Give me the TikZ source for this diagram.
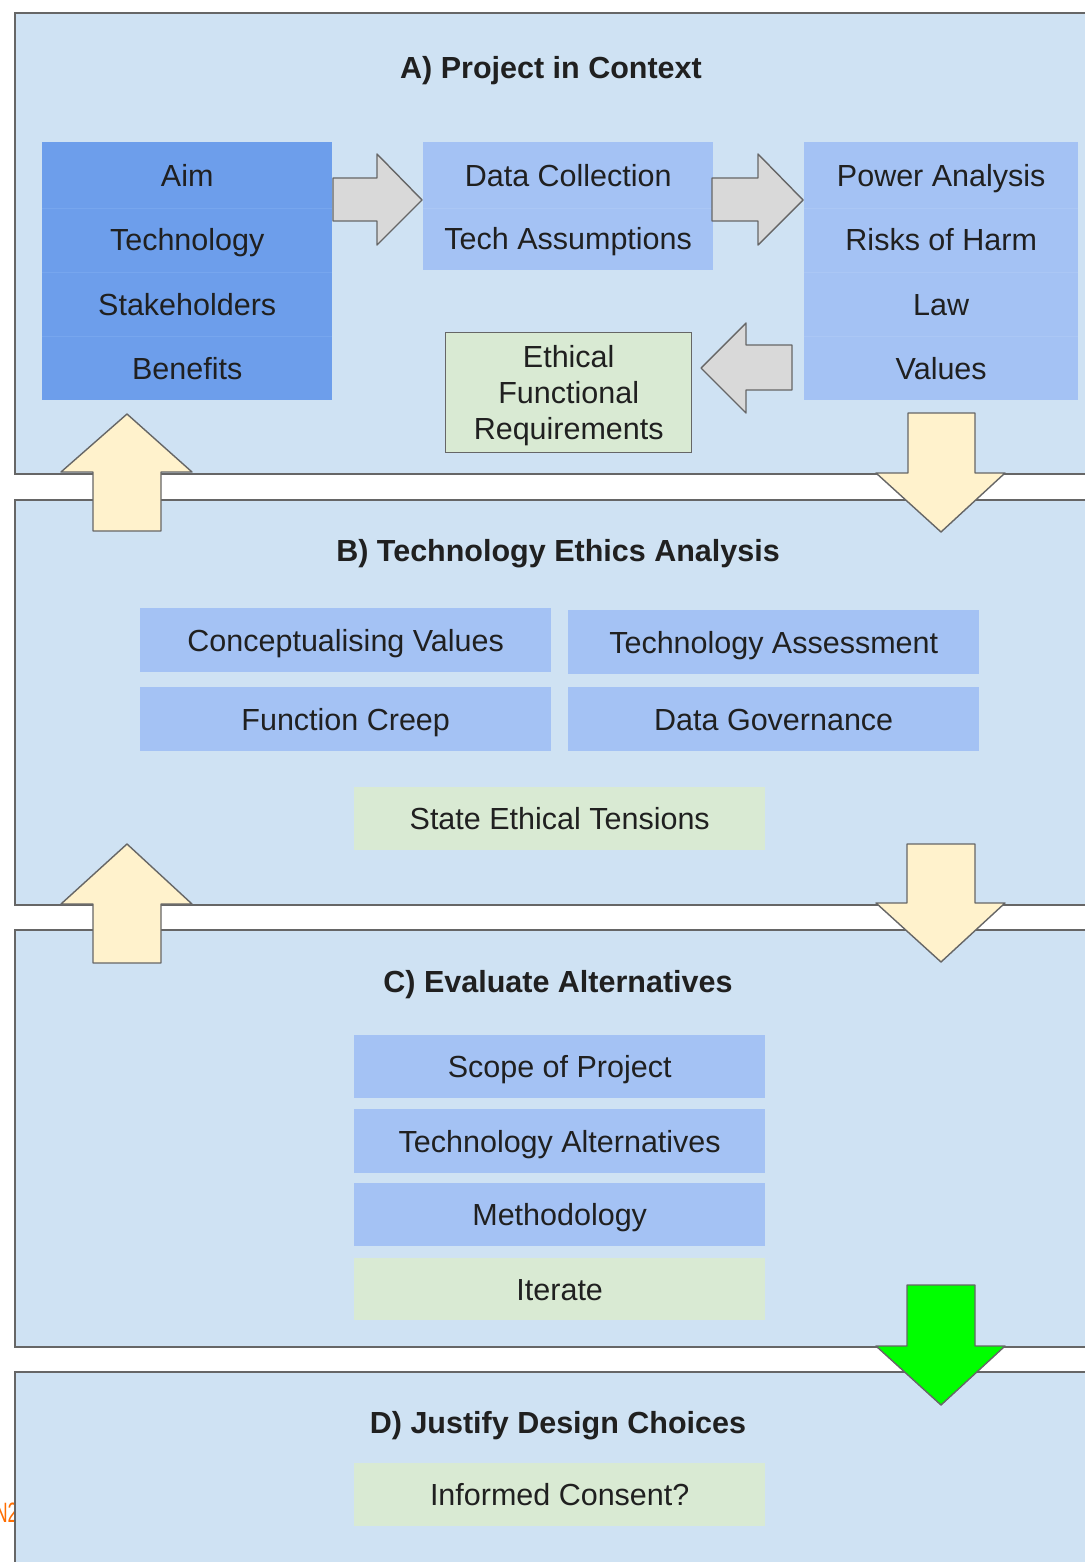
\documentclass[tikz,border=0pt]{standalone}
\usepackage{fontspec}
\setmainfont{Liberation Sans}
\definecolor{panelblue}{HTML}{CFE2F3}
\definecolor{darkblue}{HTML}{6D9EEB}
\definecolor{lightblue}{HTML}{A4C2F4}
\definecolor{palegreen}{HTML}{D9EAD3}
\definecolor{arrowgray}{HTML}{D9D9D9}
\definecolor{arrowyellow}{HTML}{FFF2CC}
\definecolor{arrowgreen}{HTML}{00FF00}
\definecolor{bordergray}{HTML}{666666}
\definecolor{txt}{HTML}{202020}
\definecolor{sepdark}{HTML}{77A6EE}
\definecolor{seplight}{HTML}{ABC7F5}
\definecolor{noteorange}{HTML}{FF6D00}
\begin{document}
\begin{tikzpicture}[x=1pt,y=-1pt,
  panel/.style={draw=bordergray, line width=1.6pt, fill=panelblue},
  celltext/.style={text=txt, font=\fontsize{30.5}{36}\selectfont, text height=22pt, text depth=0pt, inner sep=0pt},
  darkcell/.style={celltext, fill=darkblue, anchor=north west},
  lightcell/.style={celltext, fill=lightblue, anchor=north west},
  greencell/.style={celltext, fill=palegreen, anchor=north west},
  paneltitle/.style={text=txt, font=\fontsize{30.5}{36}\selectfont\bfseries, text height=22pt, text depth=0pt, inner sep=0pt},
  blockarrow/.style={draw=bordergray, line width=1.4pt, line join=round},
  grayarrow/.style={blockarrow, fill=arrowgray},
  yellowarrow/.style={blockarrow, fill=arrowyellow},
  greenarrow/.style={blockarrow, fill=arrowgreen},
  sepline/.style={line width=1pt}
]
\useasboundingbox (0,0) rectangle (1084,1562);
\fill[white] (0,0) rectangle (1084,1562);

% cut-off margin note (cropped at the left edge, as in the reference)
\node[anchor=east, inner sep=0pt, text=noteorange, font=\fontsize{28}{32}\selectfont, text height=20pt, text depth=0pt] (note) at (18,1512) {\scalebox{0.65}[1]{N2}};

% panels
\draw[panel] (15,13) rectangle (1110,474);
\draw[panel] (15,500) rectangle (1110,905);
\draw[panel] (15,930) rectangle (1110,1347);
\draw[panel] (15,1372) rectangle (1110,1610);

% titles
\node[paneltitle] (titleA) at (551,68) {A) Project in Context};
\node[paneltitle] (titleB) at (558,550) {B) Technology Ethics Analysis};
\node[paneltitle] (titleC) at (558,981) {C) Evaluate Alternatives};
\node[paneltitle] (titleD) at (558,1422) {D) Justify Design Choices};

% A) left column
\node[darkcell, minimum width=290, minimum height=66] (aim) at (42,142) {Aim};
\node[darkcell, minimum width=290, minimum height=65] (tech) at (42,207) {Technology};
\node[darkcell, minimum width=290, minimum height=64] (stake) at (42,272) {Stakeholders};
\node[darkcell, minimum width=290, minimum height=64] (ben) at (42,336) {Benefits};
\foreach \n in {aim,tech,stake}{\draw[sepline, sepdark] (\n.south west) -- (\n.south east);}

% A) middle column
\node[lightcell, minimum width=290, minimum height=66] (datacol) at (423,142) {Data Collection};
\node[lightcell, minimum width=290, minimum height=63] (techass) at (423,207) {Tech Assumptions};
\draw[sepline, seplight] (datacol.south west) -- (datacol.south east);

% A) right column
\node[lightcell, minimum width=274, minimum height=66] (power) at (804,142) {Power Analysis};
\node[lightcell, minimum width=274, minimum height=65] (risks) at (804,207) {Risks of Harm};
\node[lightcell, minimum width=274, minimum height=64] (law) at (804,272) {Law};
\node[lightcell, minimum width=274, minimum height=64] (values) at (804,336) {Values};
\foreach \n in {power,risks,law}{\draw[sepline, seplight] (\n.south west) -- (\n.south east);}

% A) ethical functional requirements
\node[draw=bordergray, line width=1.4pt, fill=palegreen, anchor=north west, minimum width=246, minimum height=120, inner sep=0pt] (efr) at (445,332) {};
\node[text=txt, font=\fontsize{30.5}{36}\selectfont, align=center, inner sep=0pt] (efrtext) at ([yshift=-3pt]efr.center) {Ethical\\Functional\\Requirements};

% B) boxes
\node[lightcell, minimum width=411, minimum height=64] (concept) at (140,608) {Conceptualising Values};
\node[lightcell, minimum width=411, minimum height=64] (techassess) at (568,610) {Technology Assessment};
\node[lightcell, minimum width=411, minimum height=64] (creep) at (140,687) {Function Creep};
\node[lightcell, minimum width=411, minimum height=64] (datagov) at (568,687) {Data Governance};
\node[greencell, minimum width=411, minimum height=63] (tensions) at (354,787) {State Ethical Tensions};

% C) boxes
\node[lightcell, minimum width=411, minimum height=63] (scope) at (354,1035) {Scope of Project};
\node[lightcell, minimum width=411, minimum height=64] (techalt) at (354,1109) {Technology Alternatives};
\node[lightcell, minimum width=411, minimum height=63] (method) at (354,1183) {Methodology};
\node[greencell, minimum width=411, minimum height=62] (iterate) at (354,1258) {Iterate};

% D) box
\node[greencell, minimum width=411, minimum height=63] (consent) at (354,1463) {Informed Consent?};

% gray arrows in A
\draw[grayarrow] (333,178) -- (377,178) -- (377,154) -- (422,200) -- (377,245) -- (377,221) -- (333,221) -- cycle;
\draw[grayarrow] (712,178) -- (758,178) -- (758,154) -- (803,200) -- (758,245) -- (758,221) -- (712,221) -- cycle;
\draw[grayarrow] (701,368) -- (746,323) -- (746,345) -- (792,345) -- (792,390) -- (746,390) -- (746,413) -- cycle;

% yellow arrows between panels
\draw[yellowarrow] (127,414) -- (192,472) -- (161,472) -- (161,531) -- (93,531) -- (93,472) -- (61,472) -- cycle;
\draw[yellowarrow] (127,844) -- (192,904) -- (161,904) -- (161,963) -- (93,963) -- (93,904) -- (61,904) -- cycle;
\draw[yellowarrow] (908,413) -- (975,413) -- (975,473) -- (1005,473) -- (941,532) -- (876,473) -- (908,473) -- cycle;
\draw[yellowarrow] (907,844) -- (975,844) -- (975,903) -- (1005,903) -- (941,962) -- (876,903) -- (907,903) -- cycle;

% green arrow
\draw[greenarrow] (907,1285) -- (975,1285) -- (975,1346) -- (1005,1346) -- (941,1405) -- (876,1346) -- (907,1346) -- cycle;
\end{tikzpicture}
\end{document}
